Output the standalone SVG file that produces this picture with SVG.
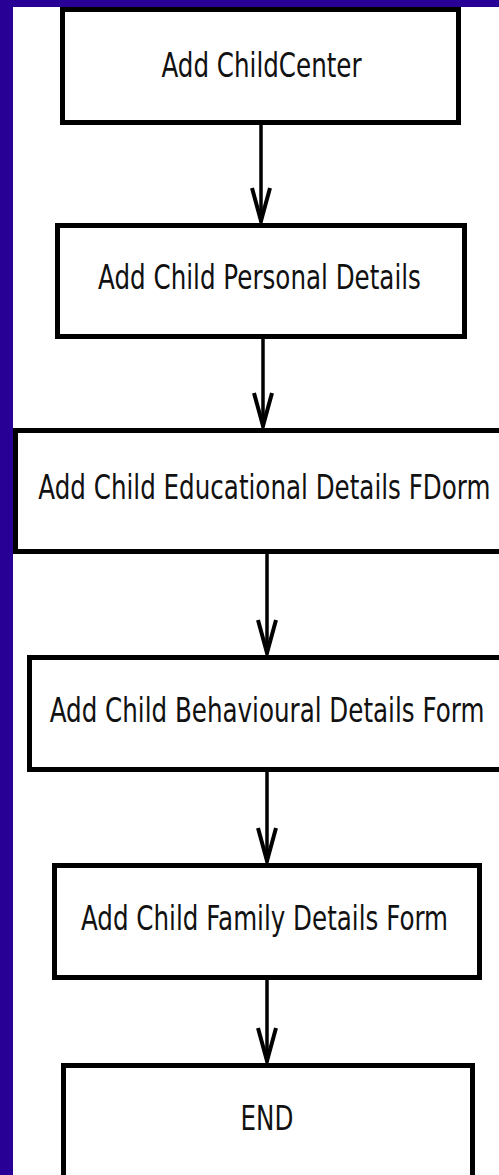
<svg xmlns="http://www.w3.org/2000/svg" width="499" height="1175" viewBox="0 0 499 1175">
<style>
.bg{fill:#290096}
.page{fill:#ffffff}
.box{fill:#ffffff;stroke:#000000;stroke-width:5}
.lbl{font-family:"DejaVu Sans","Liberation Sans",sans-serif;font-size:24.6px;fill:#111111;text-anchor:middle}
.edge{stroke:#000000;stroke-width:3.5;fill:none}
</style>
<defs>
<marker id="arrow" markerUnits="userSpaceOnUse" viewBox="-40 -14 44 28" refX="0" refY="0" markerWidth="44" markerHeight="28" orient="auto" overflow="visible">
<path d="M-34,-9 L-1,0 L-34,9" fill="none" stroke="#000000" stroke-width="4" stroke-linejoin="miter"/>
</marker>
</defs>
<rect class="bg" x="0" y="0" width="499" height="1175"/>
<rect class="page" x="13" y="7" width="486" height="1168"/>
<g id="connectors">
<line class="edge" x1="261" y1="124" x2="261" y2="222" marker-end="url(#arrow)"/>
<line class="edge" x1="263" y1="338" x2="263" y2="427" marker-end="url(#arrow)"/>
<line class="edge" x1="267" y1="553" x2="267" y2="654" marker-end="url(#arrow)"/>
<line class="edge" x1="267" y1="771" x2="267" y2="862" marker-end="url(#arrow)"/>
<line class="edge" x1="267" y1="979" x2="267" y2="1062" marker-end="url(#arrow)"/>
</g>
<g id="node-childcenter">
<rect class="box" x="62.5" y="9.5" width="396" height="113"/>
<text class="lbl" transform="translate(261.5,77) scale(1,1.4)">Add ChildCenter</text>
</g>
<g id="node-personal">
<rect class="box" x="57.5" y="225.5" width="407" height="111"/>
<text class="lbl" transform="translate(259.5,289) scale(1,1.4)">Add Child Personal Details</text>
</g>
<g id="node-educational">
<rect class="box" x="15.5" y="430.5" width="500" height="121"/>
<text class="lbl" transform="translate(264.4,499) scale(1,1.4)">Add Child Educational Details FDorm</text>
</g>
<g id="node-behavioural">
<rect class="box" x="29.5" y="657.5" width="500" height="112"/>
<text class="lbl" transform="translate(267,722) scale(1,1.4)">Add Child Behavioural Details Form</text>
</g>
<g id="node-family">
<rect class="box" x="54.5" y="865.5" width="425" height="112"/>
<text class="lbl" transform="translate(264.5,930) scale(1,1.4)">Add Child Family Details Form</text>
</g>
<g id="node-end">
<rect class="box" x="63.5" y="1065.5" width="409" height="130"/>
<text class="lbl" transform="translate(267,1130) scale(1,1.4)">END</text>
</g>
</svg>
